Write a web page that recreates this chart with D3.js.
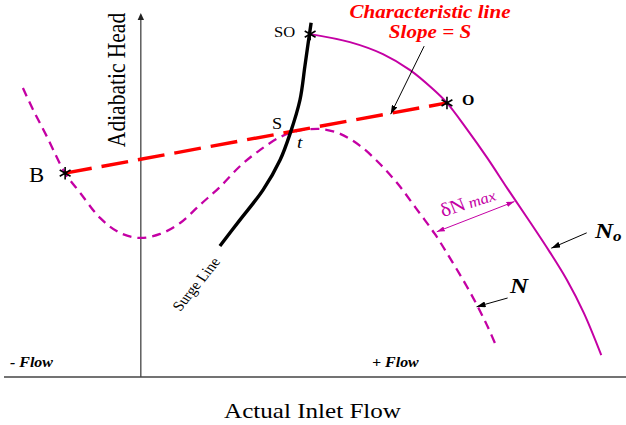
<!DOCTYPE html>
<html>
<head>
<meta charset="utf-8">
<script src="https://cdn.jsdelivr.net/npm/d3@7/dist/d3.min.js"></script>
<style>
  html, body { margin: 0; padding: 0; background: #fff; }
  svg { display: block; }
</style>
</head>
<body>
<svg id="chart" width="626" height="425"></svg>
<script>
// Compressor map: surge line, design-speed curve No, reduced-speed curve N,
// and the characteristic line B–O.

// Surge line (flow, head)
const surgeFlow = [16.3, 20.4, 25.2, 28.7, 30.8, 32.8, 33.8, 34.5, 35.1];
const surgeHead = [36.0, 43.1, 51.4, 59.6, 67.0, 76.1, 85.2, 91.8, 97.3];

// Speed curve No (solid), from SO down through O
const noFlow = [34.9, 43.1, 49.9, 55.5, 60.2, 63.1, 67.2, 71.4, 75.5, 79.8, 84.3, 87.8, 91.3, 94.9];
const noHead = [94.2, 92.0, 88.7, 84.3, 79.1, 75.3, 68.1, 60.2, 51.9, 43.4, 34.3, 26.7, 17.6, 6.0];

// Speed curve N (dashed), reaching into negative flow
const nFlow = [-24.3, -22.2, -19.3, -15.6, -12.5, -8.4, -4.3, -0.2, 4.0, 8.1, 12.2, 16.3,
               20.5, 24.6, 28.7, 32.2, 34.9, 37.4, 41.1, 45.2, 49.3, 53.0, 56.7, 60.6,
               63.7, 66.8, 69.5, 71.6, 73.4];
const nHead = [79.4, 73.4, 65.9, 56.0, 50.6, 43.7, 39.6, 38.2, 39.3, 42.3, 47.3, 52.2,
               58.0, 62.4, 65.9, 67.6, 68.1, 68.1, 66.8, 63.5, 58.5, 53.0, 46.4, 39.3,
               32.7, 25.8, 19.2, 13.5, 8.0];

// Marked operating points
const pointNames = ["B", "SO", "O"];
const pointFlow = [-15.6, 34.9, 63.1];
const pointHead = [56.0, 94.2, 75.3];

// Characteristic line runs from B to O
const charLineFrom = "B";
const charLineTo = "O";

const svg = d3.select("#chart");
const x = d3.scaleLinear().domain([-28.2, 100]).range([4, 626]);
const y = d3.scaleLinear().domain([0, 100]).range([377, 13]);

const MAG = "#c400a4";
const RED = "#ff0000";
const SERIF = "'Liberation Serif', 'Times New Roman', serif";
const SX = 1.14; // horizontal stretch of lettering

const zip = (a, b) => a.map((v, i) => [v, b[i]]);
const pt = name => {
  const i = pointNames.indexOf(name);
  return [pointFlow[i], pointHead[i]];
};
const line = d3.line().x(d => x(d[0])).y(d => y(d[1])).curve(d3.curveCatmullRom.alpha(0.5));

// arrow markers
const defs = svg.append("defs");
function marker(id, color, len, wid) {
  defs.append("marker")
    .attr("id", id).attr("viewBox", `0 -${wid} ${len} ${wid * 2}`)
    .attr("refX", len).attr("refY", 0)
    .attr("markerUnits", "userSpaceOnUse")
    .attr("markerWidth", len).attr("markerHeight", wid * 2)
    .attr("orient", "auto-start-reverse")
    .append("path").attr("d", `M0,-${wid}L${len},0L0,${wid}Z`).attr("fill", color);
}
marker("arrBlack", "#000", 9, 3);
marker("arrMag", MAG, 8, 2.6);

// axes
svg.append("line")
  .attr("x1", x.range()[0]).attr("x2", x.range()[1])
  .attr("y1", y(0)).attr("y2", y(0))
  .attr("stroke", "#444").attr("stroke-width", 1.3);
svg.append("line")
  .attr("x1", x(0)).attr("x2", x(0))
  .attr("y1", y(0)).attr("y2", y(100) + 5)
  .attr("stroke", "#444").attr("stroke-width", 1.3);
svg.append("path")
  .attr("d", `M${x(0)},${y(100)}l-3.2,7h6.4z`)
  .attr("fill", "#222");

// curve N (dashed)
svg.append("path")
  .attr("d", line(zip(nFlow, nHead)))
  .attr("fill", "none").attr("stroke", MAG)
  .attr("stroke-width", 2.3).attr("stroke-dasharray", "9,6");

// curve No (solid)
svg.append("path")
  .attr("d", line(zip(noFlow, noHead)))
  .attr("fill", "none").attr("stroke", MAG).attr("stroke-width", 2);

// characteristic line
const pB = pt(charLineFrom), pO = pt(charLineTo);
svg.append("line")
  .attr("x1", x(pB[0])).attr("y1", y(pB[1]))
  .attr("x2", x(pO[0])).attr("y2", y(pO[1]))
  .attr("stroke", RED).attr("stroke-width", 3.4)
  .attr("stroke-dasharray", "27,10");

// surge line
svg.append("path")
  .attr("d", line(zip(surgeFlow, surgeHead)))
  .attr("fill", "none").attr("stroke", "#000").attr("stroke-width", 3.4);

// asterisks at B, SO, O
svg.selectAll("path.star")
  .data(zip(pointFlow, pointHead))
  .join("path").attr("class", "star")
  .attr("transform", d => `translate(${x(d[0])},${y(d[1])})`)
  .attr("d", d3.symbol(d3.symbolAsterisk, 110))
  .attr("fill", "none").attr("stroke", "#000").attr("stroke-width", 1.6);

// annotation arrows
function arrow(from, to, color, id, both) {
  const l = svg.append("line")
    .attr("x1", x(from[0])).attr("y1", y(from[1]))
    .attr("x2", x(to[0])).attr("y2", y(to[1]))
    .attr("stroke", color).attr("stroke-width", 1)
    .attr("marker-end", `url(#${id})`);
  if (both) l.attr("marker-start", `url(#${id})`);
}
arrow([58.4, 90.9], [51.5, 72.2], "#000", "arrBlack");
arrow([91.9, 39.6], [84.6, 35.4], "#000", "arrBlack");
arrow([75.6, 21.7], [69.2, 19.3], "#000", "arrBlack");
arrow([61.0, 39.9], [77.0, 48.2], MAG, "arrMag", true);

// text helper
function label(px, py, str, o = {}) {
  const t = svg.append("text")
    .attr("transform", `translate(${px},${py}) scale(${SX},1)` + (o.rot ? ` rotate(${o.rot})` : ""))
    .attr("font-family", SERIF)
    .attr("font-size", o.size || 14)
    .attr("font-weight", o.bold ? "bold" : "normal")
    .attr("font-style", o.italic ? "italic" : "normal")
    .attr("fill", o.color || "#000")
    .attr("text-anchor", o.anchor || "start");
  if (o.dy) t.attr("dy", o.dy);
  t.text(str);
  return t;
}

label(125, 80, "Adiabatic Head", { size: 21.5, rot: -90, anchor: "middle" });
label(312.5, 418, "Actual Inlet Flow", { size: 22, anchor: "middle" });
label(10, 367, "- Flow", { size: 14, bold: true, italic: true });
label(372, 367, "+ Flow", { size: 14, bold: true, italic: true });

label(430, 17.5, "Characteristic line", { size: 18.5, bold: true, italic: true, color: RED, anchor: "middle" });
label(430, 37.5, "Slope = S", { size: 18.5, bold: true, italic: true, color: RED, anchor: "middle" });

label(274, 36.5, "SO", { size: 14.5 });
label(462, 105, "O", { size: 14, bold: true });
label(272, 128.5, "S", { size: 16 });
label(297, 148, "t", { size: 17, italic: true });
label(29, 182, "B", { size: 20 });

label(196, 284, "Surge Line", { size: 14, rot: -54.6, anchor: "middle", dy: "0.35em" });

label(510, 293, "N", { size: 22, bold: true, italic: true });
const no = label(595, 238, "N", { size: 22, bold: true, italic: true });
no.append("tspan").attr("font-size", 15).attr("dy", 3).text("o");

const dn = label(443, 217, "δN", { size: 19, color: MAG, rot: -20 });
dn.append("tspan").attr("font-size", 15).attr("font-style", "italic").attr("dx", 3).text("max");
</script>
</body>
</html>
